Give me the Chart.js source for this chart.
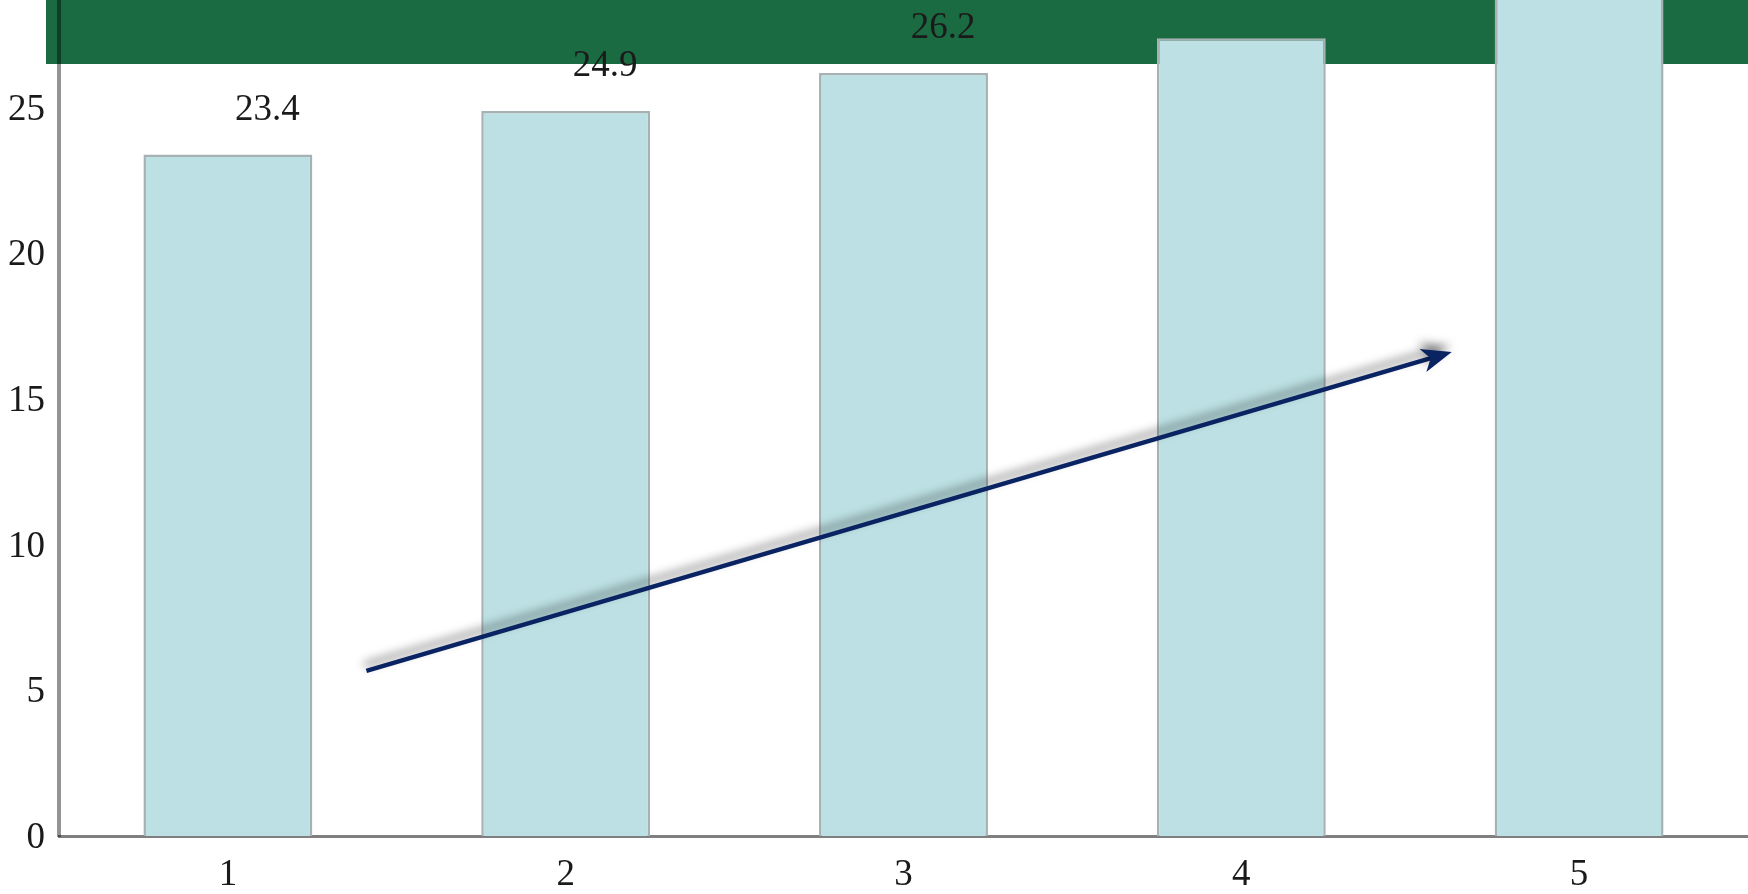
<!DOCTYPE html>
<html>
<head>
<meta charset="utf-8">
<script src="https://cdn.jsdelivr.net/npm/chart.js@4.4.1/dist/chart.umd.min.js"></script>
<style>
  html, body { margin: 0; padding: 0; background: #ffffff; }
  #wrap { width: 1748px; height: 894px; position: relative; }
</style>
</head>
<body>
<div id="wrap"><canvas id="c" width="1748" height="894"></canvas></div>
<script>
// ---- data ----
const categories = ['1', '2', '3', '4', '5'];
const values = [23.4, 24.9, 26.2, 27.4, 28.9];
const yTickValues = [0, 5, 10, 15, 20, 25];
const yMin = 0;
const yMax = 28.71;
// trend arrow, in data coordinates (category index, value)
const arrowStart = [0.41, 5.67];
const arrowEnd = [3.623, 16.62];

const SERIF = '"Liberation Serif", "Times New Roman", serif';

const bandPlugin = {
  id: 'band',
  beforeDraw(chart) {
    const ctx = chart.ctx;
    const a = chart.chartArea;
    ctx.save();
    ctx.fillStyle = '#1b6b42';
    ctx.fillRect(a.left - 13, 0, chart.width - (a.left - 13), 64);
    ctx.restore();
  }
};

const labelPlugin = {
  id: 'valueLabels',
  afterDatasetsDraw(chart) {
    const ctx = chart.ctx;
    const meta = chart.getDatasetMeta(0);
    ctx.save();
    ctx.font = '37px ' + SERIF;
    ctx.fillStyle = '#1a1a1a';
    ctx.textAlign = 'center';
    ctx.textBaseline = 'middle';
    meta.data.forEach((bar, i) => {
      const ly = bar.y - 44.5;
      if (ly - 16 < 0) return; // label would be cut off by the top edge
      ctx.fillText(values[i].toFixed(1), bar.x + 39.5, ly);
    });
    ctx.restore();
  }
};

const arrowPlugin = {
  id: 'arrow',
  afterDraw(chart) {
    const xs = chart.scales.x, ys = chart.scales.y;
    const x1 = xs.getPixelForValue(arrowStart[0]);
    const y1 = ys.getPixelForValue(arrowStart[1]);
    const x2 = xs.getPixelForValue(arrowEnd[0]);
    const y2 = ys.getPixelForValue(arrowEnd[1]);
    const ang = Math.atan2(y2 - y1, x2 - x1);
    const headLen = 30, headHalf = 12, back = 22;
    const ctx = chart.ctx;
    ctx.save();
    ctx.shadowColor = 'rgba(0,0,0,0.5)';
    ctx.shadowBlur = 10;
    ctx.shadowOffsetX = -2;
    ctx.shadowOffsetY = -6;
    ctx.strokeStyle = '#0a2463';
    ctx.fillStyle = '#0a2463';
    ctx.lineWidth = 4.5;
    ctx.lineCap = 'butt';
    const lx = x2 - Math.cos(ang) * (back - 2);
    const ly = y2 - Math.sin(ang) * (back - 2);
    ctx.beginPath();
    ctx.moveTo(x1, y1);
    ctx.lineTo(lx, ly);
    ctx.stroke();
    // head
    const bx = x2 - Math.cos(ang) * headLen;
    const by = y2 - Math.sin(ang) * headLen;
    const nx = -Math.sin(ang), ny = Math.cos(ang);
    const ix = x2 - Math.cos(ang) * back;
    const iy = y2 - Math.sin(ang) * back;
    ctx.beginPath();
    ctx.moveTo(x2, y2);
    ctx.lineTo(bx + nx * headHalf, by + ny * headHalf);
    ctx.lineTo(ix, iy);
    ctx.lineTo(bx - nx * headHalf, by - ny * headHalf);
    ctx.closePath();
    ctx.fill();
    ctx.restore();
  }
};

new Chart(document.getElementById('c'), {
  type: 'bar',
  data: {
    labels: categories,
    datasets: [{
      data: values,
      backgroundColor: '#bce0e3',
      borderColor: '#a6b1b3',
      borderWidth: 2.5,
      categoryPercentage: 1.0,
      barPercentage: 0.5
    }]
  },
  options: {
    responsive: false,
    animation: false,
    layout: { padding: 0 },
    plugins: { legend: { display: false }, tooltip: { enabled: false } },
    scales: {
      x: {
        grid: { display: false, drawTicks: false },
        border: { display: true, color: 'rgba(0,0,0,0.5)', width: 3 },
        ticks: { color: '#1a1a1a', font: { family: SERIF, size: 37 }, padding: 17, maxRotation: 0 },
        afterFit(scale) {
          scale.height = 58;
          scale.paddingLeft = 0; scale.paddingRight = 0;
        }
      },
      y: {
        min: yMin,
        max: yMax,
        grid: { display: false, drawTicks: false },
        border: { display: true, color: 'rgba(0,0,0,0.42)', width: 4 },
        ticks: { color: '#1a1a1a', font: { family: SERIF, size: 37 }, padding: 14, labelOffset: 2 },
        afterBuildTicks(scale) {
          scale.ticks = yTickValues.map(v => ({ value: v }));
        },
        afterFit(scale) {
          scale.width = 59;
          scale.paddingTop = 0; scale.paddingBottom = 0;
        }
      }
    }
  },
  plugins: [bandPlugin, labelPlugin, arrowPlugin]
});
</script>
</body>
</html>
